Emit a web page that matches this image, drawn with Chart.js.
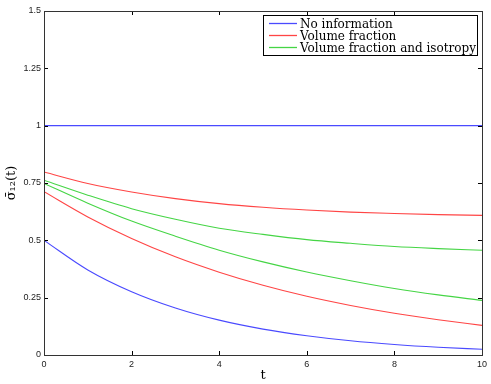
<!DOCTYPE html>
<html>
<head>
<meta charset="utf-8">
<script src="https://cdn.jsdelivr.net/npm/chart.js@4.4.1/dist/chart.umd.min.js"></script>
<style>
  html, body { margin: 0; padding: 0; background: #fff; }
</style>
</head>
<body>
<canvas id="chart" width="491" height="384"></canvas>
<script>
// values, t = 0..10
const t = [0, 1, 2, 3, 4, 5, 6, 7, 8, 9, 10];
const noInfoTop = [1, 1, 1, 1, 1, 1, 1, 1, 1, 1, 1];
const noInfoLow = [0.5, 0.371, 0.276, 0.205, 0.152, 0.113, 0.084, 0.062, 0.046, 0.034, 0.025];
const volTop = [0.798, 0.748, 0.711, 0.682, 0.660, 0.644, 0.632, 0.623, 0.617, 0.612, 0.609];
const volLow = [0.712, 0.602, 0.508, 0.428, 0.361, 0.304, 0.256, 0.216, 0.182, 0.154, 0.129];
const isoTop = [0.762, 0.697, 0.638, 0.592, 0.553, 0.526, 0.503, 0.487, 0.473, 0.464, 0.457];
const isoLow = [0.748, 0.662, 0.584, 0.518, 0.457, 0.406, 0.362, 0.324, 0.290, 0.262, 0.238];
const yTicks = [0, 0.25, 0.5, 0.75, 1, 1.25, 1.5];
const legendLabels = ["No information", "Volume fraction", "Volume fraction and isotropy"];

const blue = "#4a4aff", red = "#ff4545", green = "#45d545";
const legendColors = [blue, red, green];

function series(label, vals, color) {
  return {
    label: label,
    data: t.map((x, i) => ({ x: x, y: vals[i] })),
    borderColor: color,
    borderWidth: 1.1,
    pointRadius: 0,
    cubicInterpolationMode: "monotone",
    fill: false
  };
}

// box, inward ticks and the legend in a box at the top right
const frame = {
  id: "frame",
  afterDraw(chart) {
    const { ctx, chartArea: a, scales: { x, y } } = chart;
    ctx.save();
    ctx.strokeStyle = "#000";
    ctx.lineWidth = 1;
    ctx.beginPath();
    x.ticks.forEach(tk => {
      const px = Math.round(x.getPixelForValue(tk.value)) + 0.5;
      ctx.moveTo(px, a.bottom); ctx.lineTo(px, a.bottom - 4);
      ctx.moveTo(px, a.top); ctx.lineTo(px, a.top + 4);
    });
    y.ticks.forEach(tk => {
      const py = Math.round(y.getPixelForValue(tk.value)) + 0.5;
      ctx.moveTo(a.left, py); ctx.lineTo(a.left + 4, py);
      ctx.moveTo(a.right, py); ctx.lineTo(a.right - 4, py);
    });
    ctx.stroke();
    ctx.strokeStyle = "#333";
    ctx.strokeRect(Math.round(a.left) + 0.5, Math.round(a.top) + 0.5,
      Math.round(a.right - a.left), Math.round(a.bottom - a.top));

    // legend
    ctx.font = "12px 'DejaVu Serif'";
    let w = 0;
    legendLabels.forEach(l => { w = Math.max(w, ctx.measureText(l).width); });
    const bw = w + 38, bh = 40;
    const bx = a.right - 5 - bw, by = a.top + 4;
    ctx.fillStyle = "#fff";
    ctx.fillRect(bx, by, bw, bh);
    ctx.strokeStyle = "#000";
    ctx.strokeRect(Math.round(bx) + 0.5, Math.round(by) + 0.5, Math.round(bw), bh);
    ctx.textBaseline = "middle";
    legendLabels.forEach((l, i) => {
      const ly = Math.round(by + 8 + i * 12) + 0.5;
      ctx.lineWidth = 1.3;
      ctx.strokeStyle = legendColors[i];
      ctx.beginPath();
      ctx.moveTo(bx + 6, ly);
      ctx.lineTo(bx + 34, ly);
      ctx.stroke();
      ctx.fillStyle = "#000";
      ctx.fillText(l, bx + 37, ly + 1);
    });
    ctx.restore();
  }
};

new Chart(document.getElementById("chart"), {
  type: "line",
  data: {
    datasets: [
      series(legendLabels[0], noInfoTop, blue),
      series(legendLabels[0], noInfoLow, blue),
      series(legendLabels[1], volTop, red),
      series(legendLabels[1], volLow, red),
      series(legendLabels[2], isoTop, green),
      series(legendLabels[2], isoLow, green)
    ]
  },
  options: {
    responsive: false,
    animation: false,
    devicePixelRatio: 1,
    layout: { padding: { top: 11, right: 9, left: 0, bottom: 0 } },
    plugins: { legend: { display: false }, tooltip: { enabled: false } },
    scales: {
      x: {
        type: "linear",
        min: 0,
        max: 10,
        grid: { display: false, drawTicks: false },
        border: { display: false },
        ticks: { stepSize: 2, padding: 4, color: "#222", font: { family: "'Liberation Sans'", size: 9 } },
        title: { display: true, text: "t", color: "#000", padding: { top: 0, bottom: 1 },
                 font: { family: "'DejaVu Serif'", size: 13 } },
        afterFit: s => { s.height = 29; }
      },
      y: {
        min: 0,
        max: 1.5,
        grid: { display: false, drawTicks: false },
        border: { display: false },
        afterBuildTicks: s => { s.ticks = yTicks.map(v => ({ value: v })); },
        ticks: { padding: 3, color: "#222", font: { family: "'Liberation Sans'", size: 9 },
                 callback: v => String(v) },
        title: { display: true, text: "\u03C3\u0304\u2081\u2082(t)", color: "#000", padding: { top: 4, bottom: 0 },
                 font: { family: "'DejaVu Serif'", size: 13 } },
        afterFit: s => { s.width = 44; }
      }
    }
  },
  plugins: [frame]
});
</script>
</body>
</html>
